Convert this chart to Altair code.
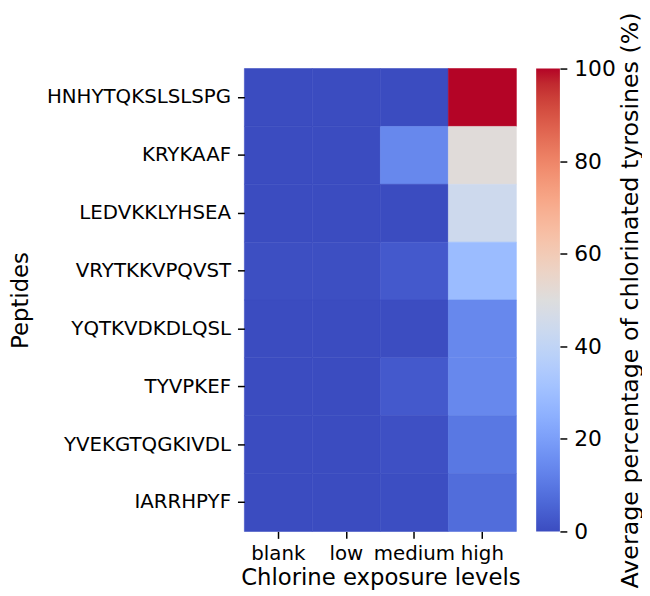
import altair as alt
import pandas as pd

peptides = ["HNHYTQKSLSLSPG", "KRYKAAF", "LEDVKKLYHSEA", "VRYTKKVPQVST",
            "YQTKVDKDLQSL", "TYVPKEF", "YVEKGTQGKIVDL", "IARRHPYF"]
levels = ["blank", "low", "medium", "high"]
blank = [0, 0, 0, 0.6, 0, 0, 0, 0]
low = [0, 0, 0, 0.6, 0, 0, 0, 0]
medium = [0, 14, 0, 3, 0.3, 3, 1, 0.5]
high = [100, 51, 44, 29, 14, 14, 10, 7.5]
cbar_ticks = [0, 20, 40, 60, 80, 100]

# matplotlib "coolwarm" colormap (Moreland), 33 samples
coolwarm = [
    (59, 76, 192), (68, 90, 204), (77, 104, 215), (87, 117, 225), (98, 130, 234),
    (108, 142, 241), (119, 154, 247), (130, 165, 251), (141, 176, 254), (152, 185, 255),
    (163, 194, 255), (174, 201, 253), (184, 208, 249), (194, 213, 244), (204, 217, 238),
    (213, 219, 230), (221, 221, 221), (229, 216, 209), (236, 211, 197), (241, 204, 184),
    (245, 196, 172), (247, 187, 160), (247, 177, 148), (247, 166, 135), (244, 154, 123),
    (241, 141, 111), (236, 127, 99), (229, 112, 88), (222, 96, 77), (213, 80, 66),
    (203, 62, 56), (192, 40, 47), (180, 4, 38)]
hexes = ["#%02x%02x%02x" % c for c in coolwarm]
n = len(hexes)
stops_dom = [100 * i / (n - 1) for i in range(n)]

rows = []
for lvl, vals in zip(levels, [blank, low, medium, high]):
    for p, v in zip(peptides, vals):
        rows.append({"peptide": p, "level": lvl, "value": v})
df = pd.DataFrame(rows)

FONT = "DejaVu Sans"
cscale = alt.Scale(domain=stops_dom, range=hexes, interpolate="rgb")

heat = alt.Chart(df).mark_rect(strokeWidth=0.6).encode(
    x=alt.X("level:N", sort=levels, title="Chlorine exposure levels",
            axis=alt.Axis(labelAngle=0, labelPadding=5, titlePadding=4)),
    y=alt.Y("peptide:N", sort=peptides, title="Peptides",
            axis=alt.Axis(labelPadding=7, titlePadding=14, labelLimit=400)),
    color=alt.Color("value:Q", legend=None, scale=cscale),
    stroke=alt.Stroke("value:Q", legend=None, scale=cscale),
).properties(width=275, height=468)

grad = alt.LinearGradient(
    gradient="linear",
    stops=[alt.GradientStop(color=h, offset=i / (n - 1)) for i, h in enumerate(hexes)],
    x1=0, x2=0, y1=1, y2=0)

cb = pd.DataFrame({"lo": [cbar_ticks[0]], "hi": [cbar_ticks[-1]]})
cbar = alt.Chart(cb).mark_rect(color=grad, strokeWidth=0).encode(
    x=alt.value(0), x2=alt.value(24),
    y=alt.Y("lo:Q", scale=alt.Scale(domain=[0, 100], nice=False, zero=False),
            axis=alt.Axis(orient="right", values=cbar_ticks, labelFontSize=22,
                          labelPadding=7, titleAngle=270, titlePadding=3,
                          titleBaseline="top", titleFontSize=24,
                          title="Average percentage of chlorinated tyrosines (%)")),
    y2="hi:Q",
).properties(width=24, height=468)

chart = alt.hconcat(heat, cbar, spacing=16).properties(
    padding={"left": 2, "top": 0, "right": 0, "bottom": 0}
).configure_view(
    stroke=None
).configure_axis(
    domain=False, grid=False, tickColor="black", tickSize=7, tickWidth=1.5,
    labelColor="black", titleColor="black", labelFont=FONT, titleFont=FONT,
    labelFontSize=20, titleFontSize=23, titleFontWeight="normal",
)

chart.save("out.html", embed_options={"renderer": "svg", "actions": False})
